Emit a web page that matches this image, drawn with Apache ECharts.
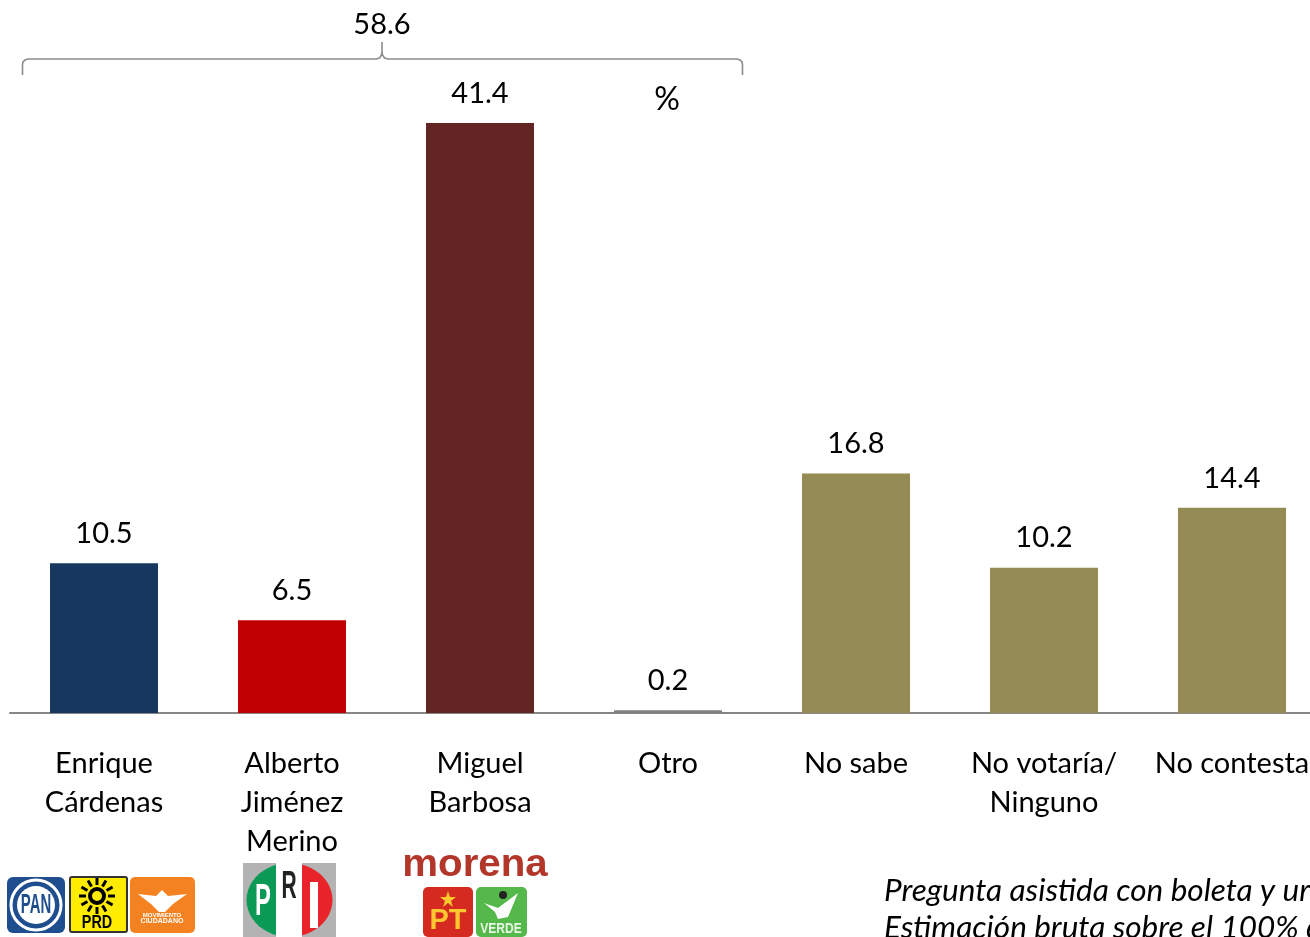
<!DOCTYPE html>
<html><head><meta charset="utf-8">
<style>html,body{margin:0;padding:0;background:#fff;overflow:hidden}#c{width:1310px;height:937px}</style>
<script src="https://cdn.jsdelivr.net/npm/echarts@6/dist/echarts.min.js"></script>
</head><body><div id="c"></div>
<script>
const categories = ['Enrique\nCárdenas','Alberto\nJiménez\nMerino','Miguel\nBarbosa','Otro','No sabe','No votaría/\nNinguno','No contesta'];
const values = [10.5,6.5,41.4,0.2,16.8,10.2,14.4];
const barColors = ['#17375e','#c00000','#632523','#7f7f7f','#948a54','#948a54','#948a54'];
const font = 'Lato, Carlito, sans-serif';
const T = (text,x,y,size,extra) => ({type:'text',x,y,style:Object.assign({text,font:size+'px '+font,fill:'#000',textAlign:'center',textVerticalAlign:'middle'},extra||{})});
const B = (text,x,y,size,fill,sx,sy) => Object.assign(T(text,x,y,size,{font:'bold '+size+'px "Liberation Sans"',fill}),{scaleX:sx||1,scaleY:sy||1});
const R = (x,y,w,h,fill,r,stroke) => ({type:'rect',shape:{x,y,width:w,height:h,r:r||0},style:{fill,stroke:stroke||null,lineWidth:stroke?2:0}});
const C = (cx,cy,r,fill,stroke,lw) => ({type:'circle',shape:{cx,cy,r},style:{fill,stroke:stroke||null,lineWidth:lw||0}});
const P = (points,fill) => ({type:'polygon',shape:{points},style:{fill}});
const arcPts = (cx,cy,rx,ry,a0,a1) => { const o=[]; for(let i=0;i<=24;i++){const a=(a0+(a1-a0)*i/24)*Math.PI/180;o.push([cx+rx*Math.cos(a),cy+ry*Math.sin(a)]);} return o; };
const bracePts = [[22.5,75],[22.5,65],[23,62],[25,60],[28,59],[376,59],[379.5,58],[381.5,55],[382,52],[382,42],[382,52],[382.5,55],[384.5,58],[388,59],[737,59],[740,60],[742,62],[742.5,65],[742.5,75]];
const chart = echarts.init(document.getElementById('c'),null,{renderer:'canvas'});
chart.setOption({
  animation:false,
  backgroundColor:'#fff',
  grid:{left:10,width:1316,top:123,bottom:224,containLabel:false,outerBoundsMode:'none'},
  xAxis:{type:'category',data:categories,
    axisTick:{show:false},
    axisLine:{lineStyle:{color:'#868686',width:2}},
    axisLabel:{interval:0,color:'#000',fontFamily:font,fontSize:29,lineHeight:39,margin:31,verticalAlign:'top',hideOverlap:false}},
  yAxis:{type:'value',min:0,max:41.4,show:false,splitLine:{show:false}},
  series:[{type:'bar',barWidth:108,
    data:values.map((v,i)=>({value:v,itemStyle:{color:barColors[i]}})),
    label:{show:true,position:'top',distance:15,color:'#000',fontFamily:font,fontSize:29,formatter:p=>p.value.toFixed(1)}}],
  graphic:{elements:[
    T('58.6',382,25,29),
    T('%',667,100,32),
    {type:'polyline',shape:{points:bracePts},style:{fill:null,stroke:'#8c8c8c',lineWidth:1.6}},
    // PAN
    R(7,877,58,56,'#1f4e8f',6),
    C(36,905,25,'#1f4e8f','#fff',3),
    C(36,905,19,'#fff'),
    B('PAN',36,905,24,'#1f4e8f',0.62,1.15),
    // PRD
    R(70,877,57,55,'#ffec00',2,'#333'),
    C(97,896,7,'#ffec00','#000',4),
    ...[0,30,60,90,120,150,180,210,240,270,300,330].map(a=>{const r=a*Math.PI/180;return {type:'line',shape:{x1:97+11*Math.cos(r),y1:896+11*Math.sin(r),x2:97+18*Math.cos(r),y2:896+18*Math.sin(r)},style:{stroke:'#000',lineWidth:3}};}),
    B('PRD',97,923,18,'#000',0.8,1),
    // MC
    R(130,877,65,56,'#f58220',5),
    P([[138,894],[156,896],[162,890],[168,896],[187,894],[173,904],[165,912],[159,912],[151,904]],'#fff'),
    B('MOVIMIENTO',162,915,6,'#fff'),
    B('CIUDADANO',162,921,7,'#fff'),
    // PRI
    R(243,863,93,74,'#b3b3b3'),
    P(arcPts(289.5,900,43,37,90,270),'#0a9a56'),
    P(arcPts(289.5,900,43,37,-90,90),'#e8232a'),
    R(276,863,26,74,'#fff'),
    B('P',263,903,34,'#fff',0.7,1.3),
    B('R',289,887,30,'#222',0.7,1.3),
    R(310,882,8,46,'#fff'),
    // morena
    B('morena',475,866,38,'#b3362b',1.06,1),
    R(423,887,50,50,'#d42a1f',5),
    P([[448,891],[450,897],[456,897],[451,901],[453,907],[448,903],[443,907],[445,901],[440,897],[446,897]],'#fdc82f'),
    B('PT',448,921,29,'#fdc82f'),
    R(476,887,51,50,'#55b84a',5),
    P([[484,903],[498,908],[518,893],[508,917],[498,919],[495,912]],'#fff'),
    C(503,895,4,'#222'),
    B('VERDE',501,929,15,'#e8f6e4',0.8,1),
    // note
    T('Pregunta asistida con boleta y urna',884,891,31.5,{font:'italic 31.5px '+font,textAlign:'left'}),
    T('Estimación bruta sobre el 100% de las respuestas',884,928,31.5,{font:'italic 31.5px '+font,textAlign:'left'})
  ]}
});
</script></body></html>
